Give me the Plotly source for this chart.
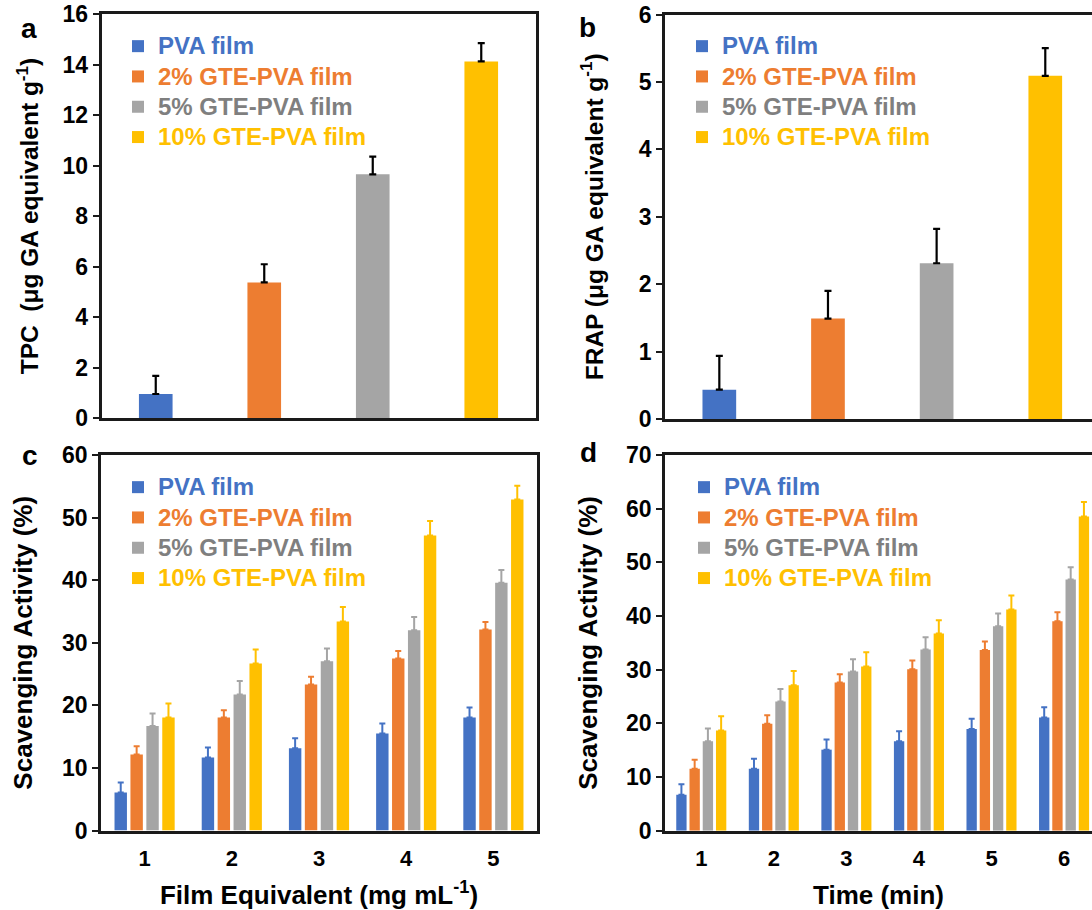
import plotly.graph_objects as go

# ---------------- data ----------------
films = ["PVA film", "2% GTE-PVA film", "5% GTE-PVA film", "10% GTE-PVA film"]
tpc = [0.95, 5.37, 9.65, 14.12]
tpc_err = [0.72, 0.72, 0.70, 0.73]
frap = [0.435, 1.49, 2.31, 5.09]
frap_err = [0.50, 0.41, 0.51, 0.41]

conc = [1, 2, 3, 4, 5]
dpph_pva = [6.07, 11.67, 13.16, 15.50, 18.06]
dpph_pva_err = [1.60, 1.60, 1.60, 1.60, 1.60]
dpph_2 = [12.15, 18.06, 23.34, 27.49, 32.10]
dpph_2_err = [1.33, 1.17, 1.22, 1.20, 1.22]
dpph_5 = [16.68, 21.74, 27.06, 32.00, 39.60]
dpph_5_err = [2.00, 2.13, 2.03, 2.10, 2.03]
dpph_10 = [18.06, 26.69, 33.40, 47.15, 52.90]
dpph_10_err = [2.24, 2.24, 2.30, 2.30, 2.20]

time_min = [1, 2, 3, 4, 5, 6]
abts_pva = [6.71, 11.56, 15.10, 16.66, 18.96, 21.07]
abts_pva_err = [1.93, 1.86, 1.87, 1.86, 1.92, 1.93]
abts_2 = [11.56, 19.95, 27.60, 30.08, 33.69, 39.03]
abts_2_err = [1.68, 1.55, 1.55, 1.62, 1.55, 1.67]
abts_5 = [16.66, 24.05, 29.65, 33.75, 38.10, 46.80]
abts_5_err = [2.36, 2.36, 2.30, 2.30, 2.36, 2.30]
abts_10 = [18.65, 27.10, 30.58, 36.73, 41.20, 58.55]
abts_10_err = [2.67, 2.67, 2.67, 2.50, 2.60, 2.67]

# ---------------- style ----------------
W, H = 1092, 910
FONT = "Arial, Liberation Sans, sans-serif"
bar_colors = ["#4472C4", "#ED7D31", "#A5A5A5", "#FFC000"]
text_colors = ["#4472C4", "#ED7D31", "#7F7F7F", "#FFC000"]
LINE = "#1a1a1a"
NBSP = "\u00a0"


def dx(l, r):
    return [l / W, min(r / W, 1.0)]


def dy(top, bottom):
    return [1 - bottom / H, 1 - top / H]


def leg_name(i):
    return ("<span style='font-size:24px;color:%s'>%s</span>" % (text_colors[i], films[i]))


fig = go.Figure()

# panel a / b: one bar per film
for panel, vals, errs in (("a", tpc, tpc_err), ("b", frap, frap_err)):
    xa = "x" if panel == "a" else "x2"
    ya = "y" if panel == "a" else "y2"
    lg = "legend" if panel == "a" else "legend2"
    for i, f in enumerate(films):
        fig.add_trace(go.Bar(
            x=[f], y=[vals[i]], name=leg_name(i), xaxis=xa, yaxis=ya, legend=lg,
            marker=dict(color=bar_colors[i], line=dict(width=0)),
            width=0.31, offsetgroup="single",
            error_y=dict(type="data", array=[errs[i]], arrayminus=[0], symmetric=False,
                         color="black", thickness=2.2, width=3.5),
        ))

series_c = [(dpph_pva, dpph_pva_err), (dpph_2, dpph_2_err), (dpph_5, dpph_5_err), (dpph_10, dpph_10_err)]
for i, (v, e) in enumerate(series_c):
    fig.add_trace(go.Bar(
        x=conc, y=v, name=leg_name(i), xaxis="x3", yaxis="y3", legend="legend3",
        marker=dict(color=bar_colors[i], line=dict(width=0)),
        error_y=dict(type="data", array=e, arrayminus=[0] * len(e), symmetric=False,
                     color=bar_colors[i], thickness=2, width=3),
    ))

series_d = [(abts_pva, abts_pva_err), (abts_2, abts_2_err), (abts_5, abts_5_err), (abts_10, abts_10_err)]
for i, (v, e) in enumerate(series_d):
    fig.add_trace(go.Bar(
        x=time_min, y=v, name=leg_name(i), xaxis="x4", yaxis="y4", legend="legend4",
        marker=dict(color=bar_colors[i], line=dict(width=0)),
        error_y=dict(type="data", array=e, arrayminus=[0] * len(e), symmetric=False,
                     color=bar_colors[i], thickness=2, width=3),
    ))

tickfont = dict(family=FONT, size=23, color="black", weight="bold")
xtickfont = dict(family=FONT, size=22, color="black", weight="bold")
titlefont = dict(family=FONT, size=26, color="black", weight="bold")
titlefont_ab = dict(family=FONT, size=24.5, color="black", weight="bold")

common_y = dict(showline=True, linecolor=LINE, linewidth=2.5, ticks="outside", ticklen=6,
                tickwidth=2.2, tickcolor=LINE, showgrid=False, zeroline=False, tickfont=tickfont,
                fixedrange=True, automargin=False)
common_x = dict(showline=True, linecolor=LINE, linewidth=2.5, showgrid=False, zeroline=False,
                fixedrange=True, automargin=False)

fig.update_layout(
    width=W, height=H,
    margin=dict(l=0, r=0, t=0, b=0, pad=0, autoexpand=False),
    paper_bgcolor="white", plot_bgcolor="white",
    barmode="group", bargap=0.27, bargroupgap=0.22,
    font=dict(family=FONT, color="black"),
    xaxis=dict(domain=dx(101.5, 535.5), anchor="y", type="category", range=[-0.5, 3.5],
               showticklabels=False, ticks="", mirror=True, **common_x),
    yaxis=dict(domain=dy(14, 418), anchor="x", range=[0, 16], dtick=2, mirror=True,
               title=dict(text="TPC  (μg GA equivalent g<sup>-1</sup>)" + NBSP * 4,
                          font=titlefont_ab, standoff=17),
               **common_y),
    xaxis2=dict(domain=dx(665, 1092), anchor="y2", type="category", range=[-0.5, 3.43],
                showticklabels=False, ticks="", mirror=True, **common_x),
    yaxis2=dict(domain=dy(14.5, 419), anchor="x2", range=[0, 6], dtick=1, mirror=False,
                title=dict(text="FRAP (μg GA equivalent g<sup>-1</sup>)" + NBSP * 3,
                           font=titlefont_ab, standoff=29),
                **common_y),
    xaxis3=dict(domain=dx(101, 537), anchor="y3", range=[0.5, 5.5], tickvals=conc,
                ticks="", ticklabelstandoff=6, tickfont=xtickfont, mirror=True,
                title=dict(text="Film Equivalent (mg mL<sup>-1</sup>)", font=titlefont, standoff=17),
                **common_x),
    yaxis3=dict(domain=dy(455, 830.5), anchor="x3", range=[0, 60], dtick=10, mirror=True,
                title=dict(text="Scavenging Activity (%)", font=titlefont, standoff=22),
                **common_y),
    xaxis4=dict(domain=dx(665, 1092), anchor="y4", range=[0.5, 6.385], tickvals=time_min,
                ticks="", ticklabelstandoff=6, tickfont=xtickfont, mirror=True,
                title=dict(text="Time (min)", font=titlefont, standoff=17),
                **common_x),
    yaxis4=dict(domain=dy(455, 830.7), anchor="x4", range=[0, 70], dtick=10, mirror=False,
                title=dict(text="Scavenging Activity (%)", font=titlefont, standoff=21),
                **common_y),
)

leg_common = dict(xanchor="left", yanchor="top", bgcolor="rgba(0,0,0,0)", borderwidth=0,
                  font=dict(family=FONT, size=21, weight="bold"), itemclick=False,
                  itemdoubleclick=False, tracegroupgap=0)
fig.update_layout(
    legend=dict(x=118 / W, y=1 - 26 / H, **leg_common),
    legend2=dict(x=682 / W, y=1 - 26 / H, **leg_common),
    legend3=dict(x=118 / W, y=1 - 467 / H, **leg_common),
    legend4=dict(x=684 / W, y=1 - 467 / H, **leg_common),
    showlegend=True,
)

labels = [("a", 29, 29), ("b", 587, 27), ("c", 30, 455), ("d", 588, 452)]
for t, x, y in labels:
    fig.add_annotation(text=t, x=x / W, y=1 - y / H, xref="paper", yref="paper",
                       xanchor="center", yanchor="middle", showarrow=False,
                       font=dict(family=FONT, size=28, color="black", weight="bold"))

fig.write_html("out.html")
